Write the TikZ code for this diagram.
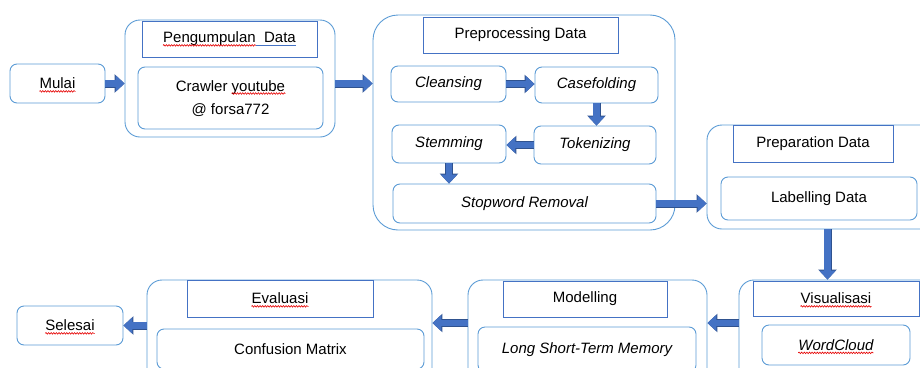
\documentclass[tikz,border=0pt]{standalone}
\usepackage{fontspec}
\setmainfont{Liberation Sans}
\usetikzlibrary{arrows.meta}
\usetikzlibrary{calc}
\usetikzlibrary{decorations.pathmorphing}

\definecolor{boxline}{RGB}{91,155,213}
\definecolor{titleline}{RGB}{68,114,196}
\definecolor{arrowfill}{RGB}{68,114,196}
\definecolor{arrowedge}{RGB}{47,82,143}
\definecolor{spellred}{RGB}{230,0,0}

\begin{document}
\begin{tikzpicture}[x=1pt, y=-1pt, font=\fontsize{15}{22}\selectfont,
        outer_style/.style={draw=boxline, line width=0.9pt, rounded corners=15pt, inner sep=0pt},
        title_style/.style={draw=titleline, line width=0.9pt, fill=white, inner sep=0pt},
        step_style/.style={draw=boxline, line width=0.9pt, rounded corners=7pt, fill=white, inner sep=0pt},
        italic_step_style/.style={step_style, font=\fontsize{15}{22}\selectfont\itshape},
        word_style/.style={inner sep=0pt},
        spell_style/.style={draw=spellred, line width=0.6pt, decorate,
            decoration={snake, amplitude=0.8pt, segment length=2.6pt}},
        grammar_style/.style={draw=titleline, line width=0.8pt},
        flow_style/.style={draw=arrowfill, line width=6.5pt, -{Triangle[length=9pt,width=16pt]},
            preaction={draw=arrowedge, line width=8pt, -{Triangle[length=10pt,width=18pt]}}}]

        \useasboundingbox (0,0) rectangle (920,367);
        \clip (0,0) rectangle (920,367);

        % upper row
        \node [step_style, minimum width=95pt, minimum height=39pt] (mulai) at (57.5,83.5) {};
        \node [word_style] (mulai_word) at (mulai) {Mulai};

        \node [outer_style, minimum width=210pt, minimum height=117pt] (pengumpulan) at (230,78.5) {};
        \node [title_style, minimum width=175pt, minimum height=36pt] (pengumpulan_title) at (229.5,39) {};
        \node [word_style] (pengumpulan_text) at (pengumpulan_title) {Pengumpulan\ \ Data};
        \node [word_style, anchor=base west] (pengumpulan_word) at (pengumpulan_text.base west) {\phantom{Pengumpulan}};
        \node [step_style, minimum width=185pt, minimum height=62pt] (crawler) at (230.5,98) {};
        \node [word_style, anchor=base] (crawler_line) at (230.5,91) {Crawler youtube};
        \node [word_style, anchor=base east] (youtube_word) at (crawler_line.base east) {\phantom{youtube}};
        \node [word_style, anchor=base] (forsa_line) at (230.5,114) {@ forsa772};

        \node [outer_style, rounded corners=25pt, minimum width=302pt, minimum height=215pt] (preprocessing) at (524,122.5) {};
        \node [title_style, minimum width=195pt, minimum height=36pt] (preprocessing_title) at (520.5,35) {Preprocessing Data};
        \node [italic_step_style, minimum width=115pt, minimum height=36pt] (cleansing) at (448.5,84) {Cleansing};
        \node [italic_step_style, minimum width=123pt, minimum height=36pt] (casefolding) at (596.5,85) {Casefolding};
        \node [italic_step_style, minimum width=122pt, minimum height=38pt] (tokenizing) at (595,145) {Tokenizing};
        \node [italic_step_style, minimum width=114pt, minimum height=38pt] (stemming) at (449,144) {Stemming};
        \node [italic_step_style, minimum width=263pt, minimum height=39pt] (stopword) at (524.5,203.5) {Stopword Removal};

        \node [outer_style, minimum width=233pt, minimum height=104pt] (preparation) at (823.5,177) {};
        \node [title_style, minimum width=160pt, minimum height=37pt] (preparation_title) at (813,143.5) {Preparation Data};
        \node [step_style, minimum width=196pt, minimum height=43pt] (labelling) at (819,198.5) {Labelling Data};

        % lower row
        \node [outer_style, minimum width=211pt, minimum height=120pt] (visualisasi) at (844.5,340) {};
        \node [title_style, minimum width=166pt, minimum height=35pt] (visualisasi_title) at (836,298.5) {};
        \node [word_style] (visualisasi_word) at (visualisasi_title) {Visualisasi};
        \node [step_style, minimum width=148pt, minimum height=40pt] (wordcloud) at (836,345) {};
        \node [word_style, font=\fontsize{15}{22}\selectfont\itshape] (wordcloud_word) at (wordcloud) {WordCloud};

        \node [outer_style, minimum width=239pt, minimum height=120pt] (modelling) at (587.5,340) {};
        \node [title_style, minimum width=164pt, minimum height=36pt] (modelling_title) at (585,299) {Modelling};
        \node [italic_step_style, minimum width=218pt, minimum height=45pt] (lstm) at (587,349.5) {Long Short-Term Memory};

        \node [outer_style, minimum width=285pt, minimum height=120pt] (evaluasi) at (289.5,340) {};
        \node [title_style, minimum width=186pt, minimum height=37pt] (evaluasi_title) at (280,298.5) {};
        \node [word_style] (evaluasi_word) at (evaluasi_title) {Evaluasi};
        \node [step_style, minimum width=267pt, minimum height=40pt] (confusion) at (290.5,349) {Confusion Matrix};

        \node [step_style, minimum width=106pt, minimum height=39pt] (selesai) at (70,325.5) {};
        \node [word_style] (selesai_word) at (selesai) {Selesai};

        % spelling marks
        \foreach \w in {mulai_word, pengumpulan_word, youtube_word, visualisasi_word, wordcloud_word, evaluasi_word, selesai_word}
            \draw [spell_style] ([yshift=-2.5pt]\w.base west) -- ([yshift=-2.5pt]\w.base east);
        \draw [grammar_style] ([yshift=-2.5pt]pengumpulan_word.base east) -- ([yshift=-2.5pt]pengumpulan_text.base east);

        \coordinate (lower_row) at (0,323);

        % arrows
        \draw [flow_style] (mulai.east) -- (mulai.east -| pengumpulan.west);
        \draw [flow_style] (mulai.east -| pengumpulan.east) -- (mulai.east -| preprocessing.west);
        \draw [flow_style] (cleansing.east) -- (cleansing.east -| casefolding.west);
        \draw [flow_style] (casefolding.south) -- (casefolding.south |- tokenizing.north);
        \draw [flow_style] (tokenizing.west) -- (tokenizing.west -| stemming.east);
        \draw [flow_style] (stemming.south) -- (stemming.south |- stopword.north);
        \draw [flow_style] (stopword.east) -- (stopword.east -| preparation.west);
        \draw [flow_style] ([xshift=4pt]preparation.south) -- ([xshift=4pt]preparation.south |- visualisasi.north);
        \draw [flow_style] (lower_row -| visualisasi.west) -- (lower_row -| modelling.east);
        \draw [flow_style] (lower_row -| modelling.west) -- (lower_row -| evaluasi.east);
        \draw [flow_style] (selesai.east -| evaluasi.west) -- (selesai.east);
\end{tikzpicture}
\end{document}
